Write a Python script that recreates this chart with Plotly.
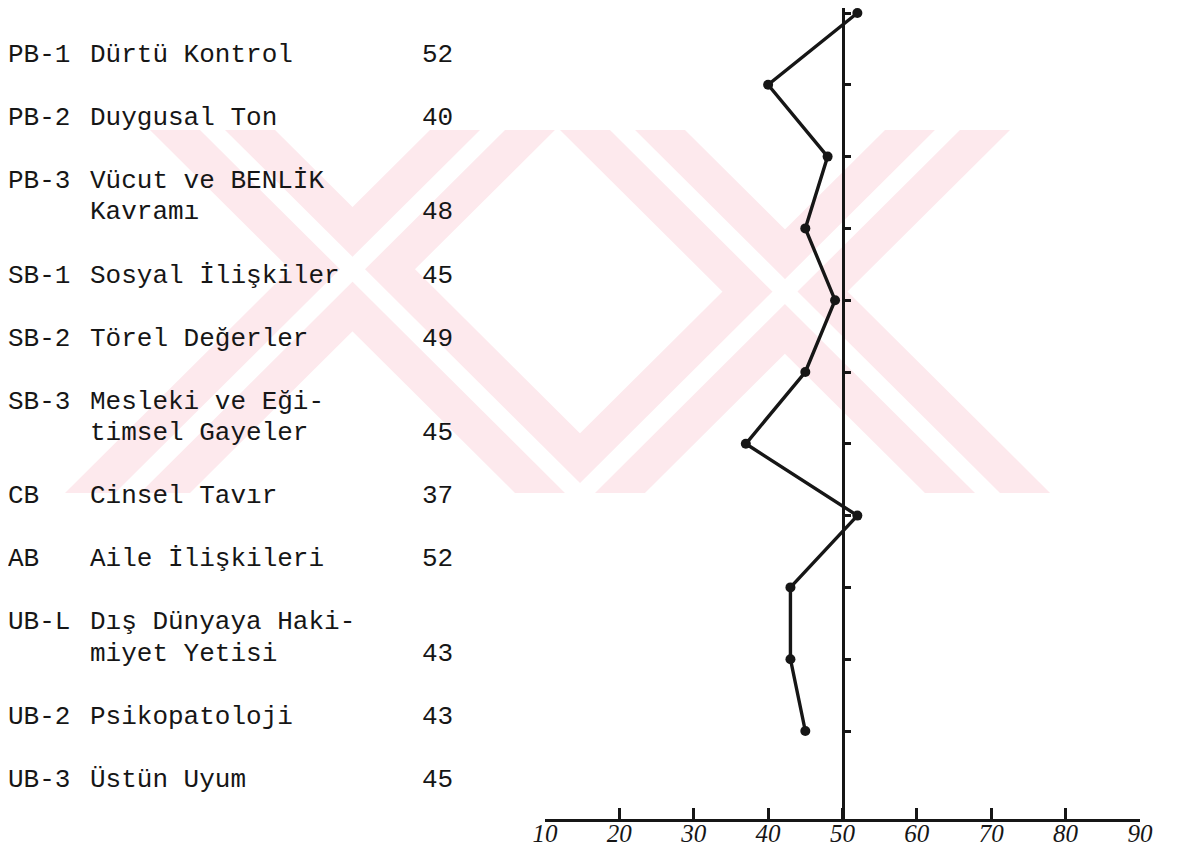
import plotly.graph_objects as go

# ---------------- data ----------------
codes = ["PB-1", "PB-2", "PB-3", "SB-1", "SB-2", "SB-3", "CB", "AB", "UB-L", "UB-2", "UB-3"]
names = [
    ["Dürtü Kontrol"],
    ["Duygusal Ton"],
    ["Vücut ve BENLİK", "Kavramı"],
    ["Sosyal İlişkiler"],
    ["Törel Değerler"],
    ["Mesleki ve Eği-", "timsel Gayeler"],
    ["Cinsel Tavır"],
    ["Aile İlişkileri"],
    ["Dış Dünyaya Haki-", "miyet Yetisi"],
    ["Psikopatoloji"],
    ["Üstün Uyum"],
]
values = [52, 40, 48, 45, 49, 45, 37, 52, 43, 43, 45]
x_ticks = [10, 20, 30, 40, 50, 60, 70, 80, 90]

# ---------------- layout geometry (reference pixels) ----------------
OFF = 8                      # page body margin offset
W, H = 1186 - OFF, 849 - OFF
TOP, BOTTOM = 8, 819         # plot area top / x-axis line (reference px)
X10, X90 = 545, 1140

def px(xp):
    return (xp - OFF) / W

def py(yp):
    return (BOTTOM - yp) / (BOTTOM - TOP)

ink = "#161616"
idx = list(range(len(values)))

fig = go.Figure()
fig.add_trace(go.Scatter(
    x=values, y=idx, mode="lines+markers",
    line=dict(color=ink, width=3.4),
    marker=dict(color=ink, size=10),
    hoverinfo="skip", showlegend=False,
))

# ---------------- watermark (faded logo) ----------------
pink = "#fde9ed"
shapes = []

def band(top_l, top_r, shift, color):
    y0, y1 = 130, 493
    pts = [(top_l, y0), (top_r, y0), (top_r + shift, y1), (top_l + shift, y1)]
    path = "M " + " L ".join(f"{px(a):.4f},{py(b):.4f}" for a, b in pts) + " Z"
    return dict(type="path", path=path, xref="paper", yref="paper",
                fillcolor=color, line=dict(width=0), layer="below")

strokes = [(150, 365), (430, -365), (560, 365), (885, -365)]
for tl, shift in strokes:
    shapes.append(band(tl, tl + 125, shift, pink))
for tl, shift in strokes:
    shapes.append(band(tl + 50, tl + 75, shift, "white"))

# ---------------- left text table ----------------
annotations = []
FONT = dict(family="Liberation Mono, Courier New, monospace", size=26, color=ink)
line_h = 31.5
y_first = 55
line_no = 0
for c, nm, v in zip(codes, names, values):
    for k, part in enumerate(nm):
        yy = y_first + line_h * (line_no + k)
        if k == 0:
            annotations.append(dict(text=c, x=px(6), y=py(yy), xref="paper", yref="paper",
                                    xanchor="left", yanchor="middle", showarrow=False, font=FONT))
        annotations.append(dict(text=part, x=px(88), y=py(yy), xref="paper", yref="paper",
                                xanchor="left", yanchor="middle", showarrow=False, font=FONT))
    yv = y_first + line_h * (line_no + len(nm) - 1)
    annotations.append(dict(text=str(v), x=px(455), y=py(yv), xref="paper", yref="paper",
                            xanchor="right", yanchor="middle", showarrow=False, font=FONT))
    line_no += len(nm) + 1

x_dom = [px(X10), px(X90)]
x50 = x_dom[0] + (50 - 10) / 80 * (x_dom[1] - x_dom[0])

# y range so that index 0 -> 13 px, index 10 -> 731 px
per = (731 - 13) / 10
ymin = -(13 - TOP) / per
ymax = ymin + (BOTTOM - TOP) / per

fig.update_layout(
    width=W, height=H, autosize=False,
    margin=dict(l=0, r=0, t=TOP - OFF, b=H - (BOTTOM - OFF), pad=0, autoexpand=False),
    paper_bgcolor="white", plot_bgcolor="rgba(0,0,0,0)",
    shapes=shapes, annotations=annotations,
    xaxis=dict(
        domain=x_dom, range=[10, 90], tickvals=x_ticks,
        ticktext=[str(t) for t in x_ticks],
        ticks="inside", ticklen=11, tickwidth=2.5, tickcolor=ink,
        showline=True, linecolor=ink, linewidth=2.5,
        showgrid=False, zeroline=False, automargin=False,
        tickfont=dict(family="Liberation Serif", size=25, color=ink, style="italic"),
        ticklabelstandoff=-10,
    ),
    yaxis=dict(
        anchor="free", position=x50, range=[ymax, ymin],
        tickvals=idx, showticklabels=False, automargin=False,
        ticks="inside", ticklen=7, tickwidth=2.5, tickcolor=ink,
        showline=True, linecolor=ink, linewidth=2.5,
        showgrid=False, zeroline=False,
    ),
)

fig.write_html("out.html")
